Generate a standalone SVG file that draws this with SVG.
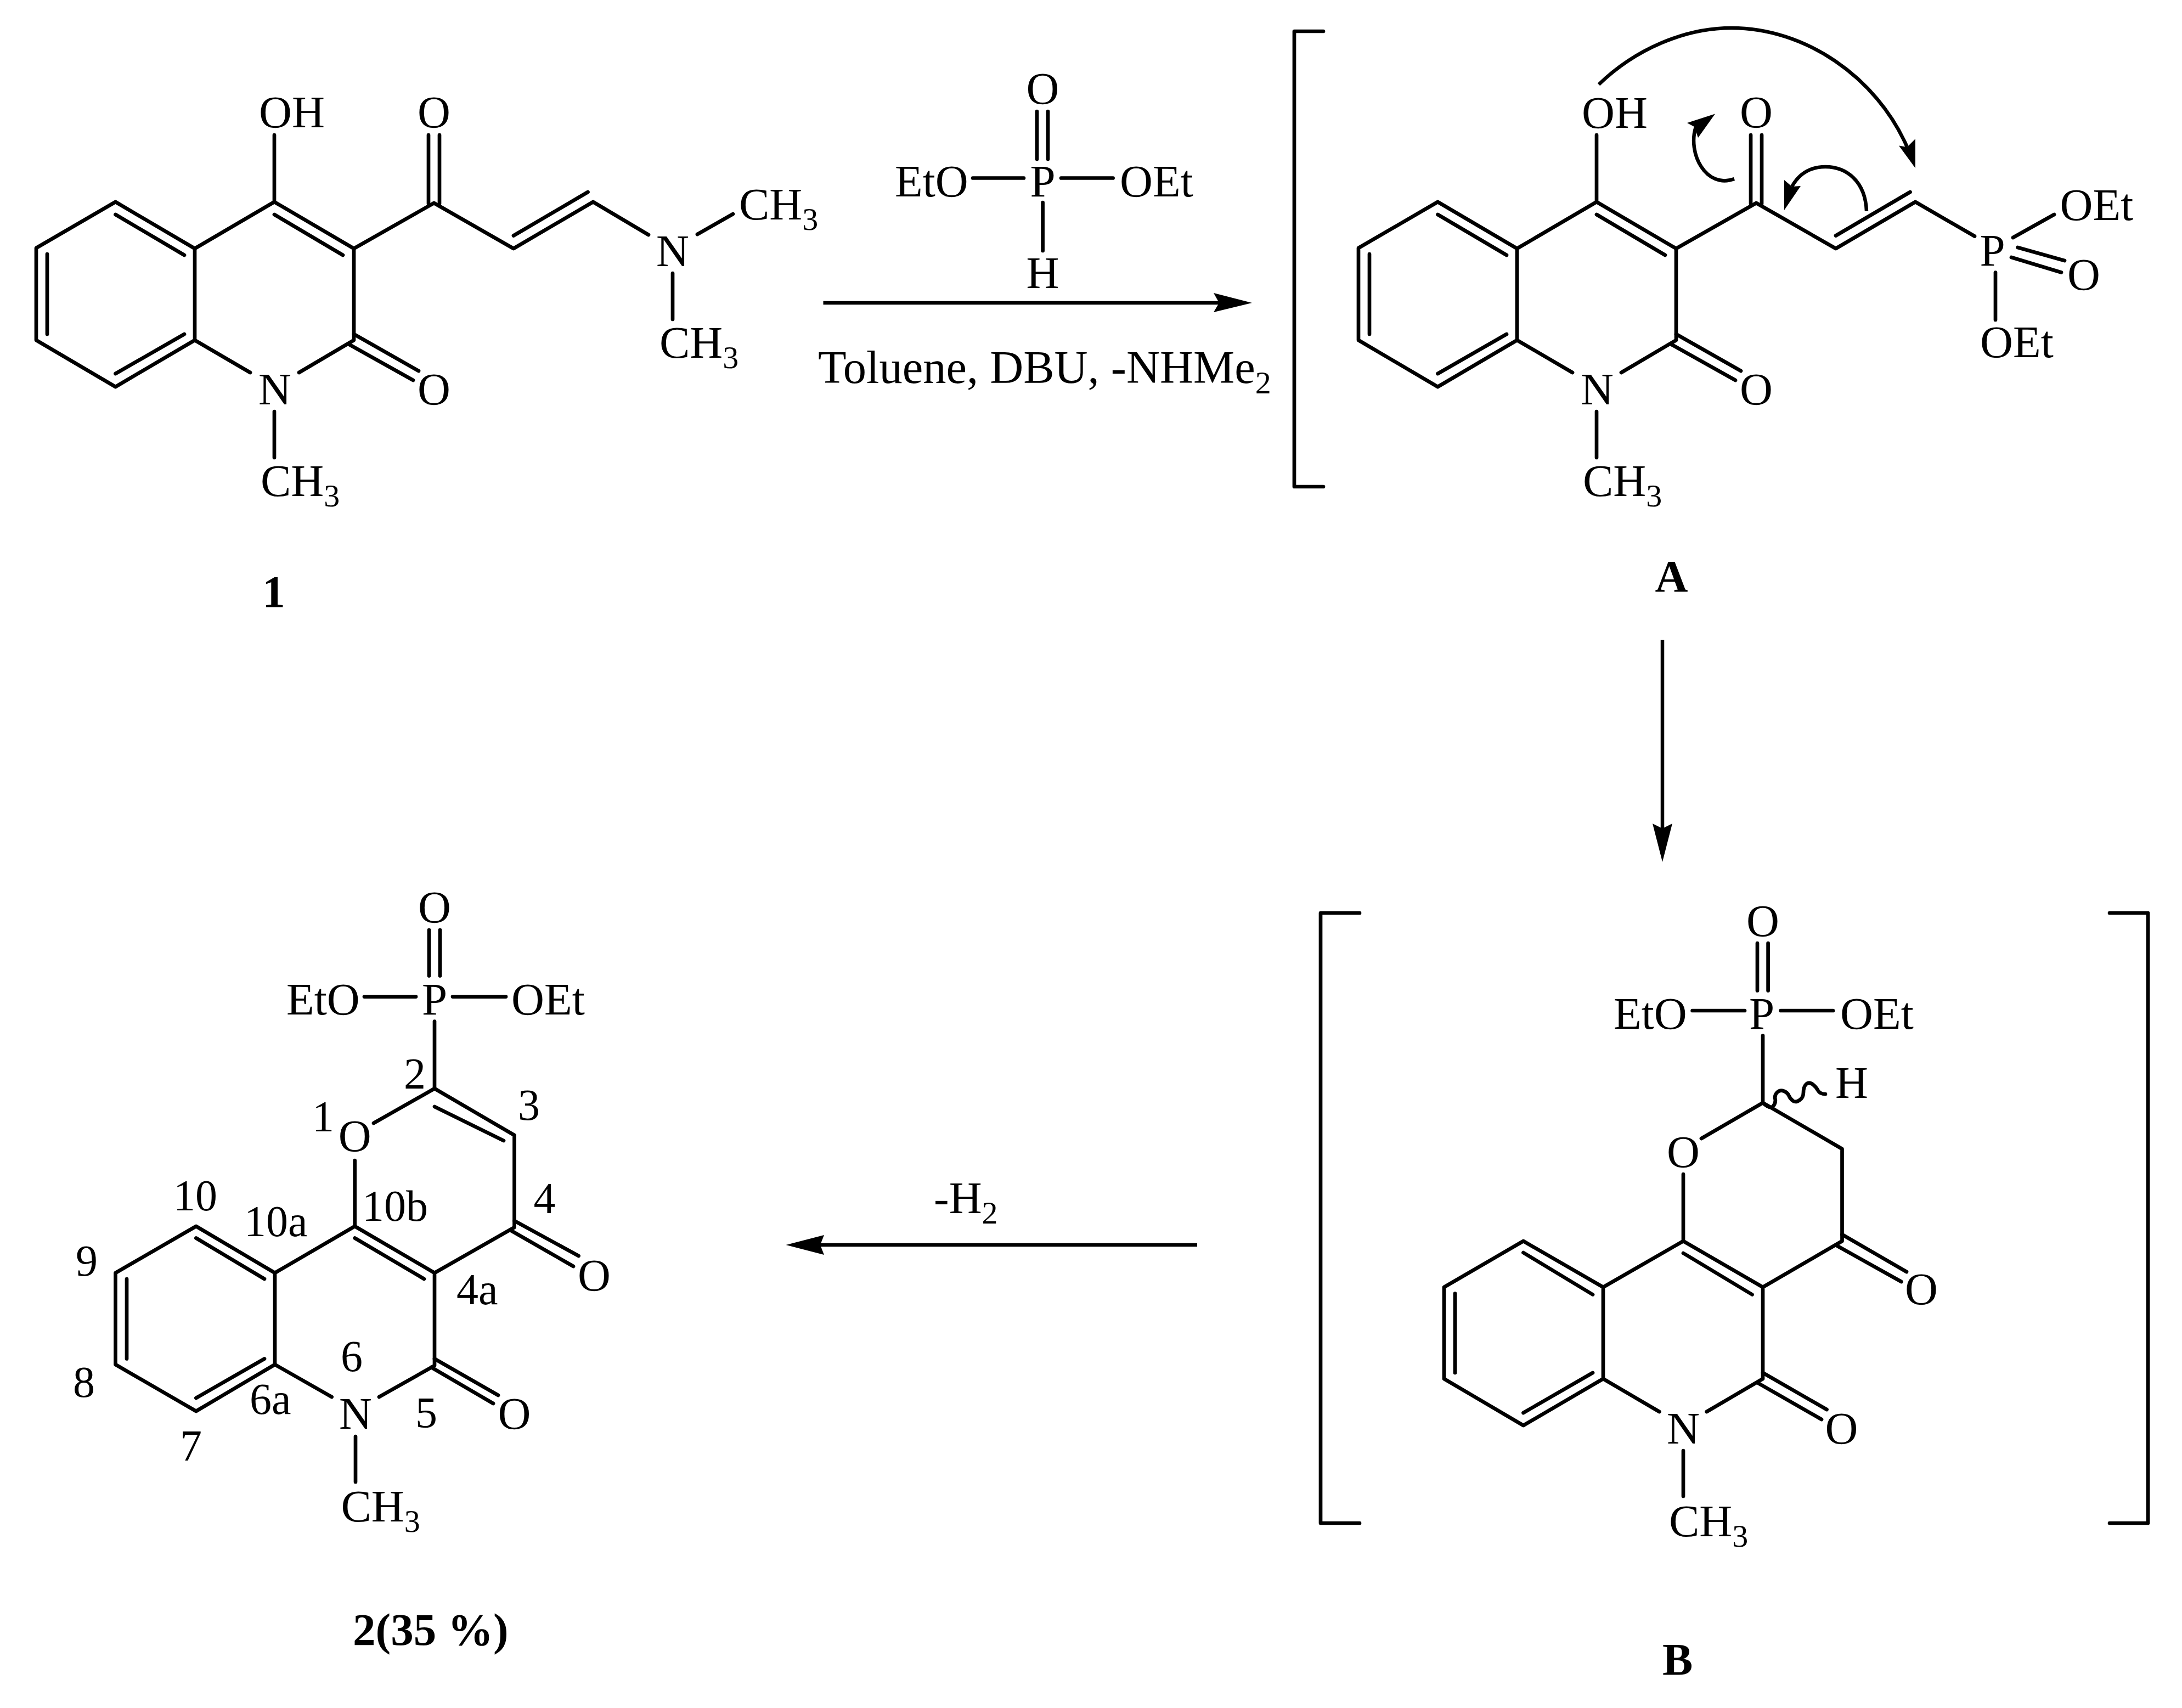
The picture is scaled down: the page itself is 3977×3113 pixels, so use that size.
<svg xmlns="http://www.w3.org/2000/svg" width="3977" height="3113" viewBox="0 0 3977 3113">
<style>
text{font-family:"Liberation Serif","Times New Roman",serif;font-size:83px;fill:#000}
text.n{font-size:80px}
text.t{font-size:84.500px}
text.b{font-weight:bold}
text.m{text-anchor:middle}
tspan.s{font-size:58px}
line,path.l{stroke:#000;stroke-width:6.700;stroke-linecap:round;stroke-linejoin:round;fill:none}
path.c{stroke:#000;stroke-width:6.500;stroke-linecap:butt;fill:none}
path.h{fill:#000;stroke:none}
</style>
<rect width="3977" height="3113" fill="#fff"/>
<g id="compound-1">
<path class="l" d="M500,368L355,453L210.500,368L66,452V620L210.500,705L355,620V453M355,620L456,679M500,368L645,453V620L545,679M645,453L791,370L936,453L1081,368L1182,428"/>
<line x1="210.500" y1="391" x2="336" y2="465"/><line x1="86" y1="463" x2="86" y2="609"/><line x1="210.500" y1="681" x2="336" y2="609"/><line x1="500" y1="391" x2="625" y2="465"/>
<line x1="500" y1="246" x2="500" y2="368"/><line x1="781" y1="246" x2="781" y2="371"/><line x1="801" y1="246" x2="801" y2="371"/>
<line x1="936" y1="429.500" x2="1071.500" y2="350"/><line x1="645" y1="609" x2="763" y2="676"/><line x1="635" y1="627" x2="753" y2="693"/>
<line x1="500" y1="750" x2="500" y2="834"/><line x1="1271" y1="427" x2="1336" y2="390"/><line x1="1226" y1="498" x2="1226" y2="582"/>
<text x="472" y="232">OH</text><text class="m" x="791" y="232">O</text><text class="m" x="501" y="737">N</text><text class="m" x="791" y="737">O</text>
<text x="475" y="904">CH<tspan class="s" dy="19">3</tspan></text><text class="m" x="1226" y="485">N</text>
<text x="1347" y="400">CH<tspan class="s" dy="19">3</tspan></text><text x="1202" y="652">CH<tspan class="s" dy="19">3</tspan></text>
<text class="b m" x="499" y="1106">1</text>
</g>
<g id="reagent">
<line x1="1890" y1="203" x2="1890" y2="290"/><line x1="1910" y1="203" x2="1910" y2="290"/><line x1="1773" y1="324.500" x2="1866" y2="324.500"/><line x1="1934" y1="324.500" x2="2028.600" y2="324.500"/><line x1="1900.600" y1="369" x2="1900.600" y2="457"/>
<text class="m" x="1900.600" y="189">O</text><text class="m" x="1900.600" y="357.600">P</text><text x="1631" y="357.600">EtO</text><text x="2041" y="357.600">OEt</text><text class="m" x="1900.600" y="525">H</text>
<text class="t" x="1491" y="698">Toluene, DBU, -NHMe<tspan class="s" dy="19">2</tspan></text>
</g>
<g id="intermediate-A">
<path class="l" d="M2412,57H2359V887H2412"/>
<path class="l" d="M2910,368L2765,453L2620.500,368L2476,452V620L2620.500,705L2765,620V453M2765,620L2866,679M2910,368L3055,453V620L2955,679M3055,453L3201,370L3346,453L3491,368L3599,430.500"/>
<line x1="2620.500" y1="391" x2="2746" y2="465"/><line x1="2496" y1="463" x2="2496" y2="609"/><line x1="2620.500" y1="681" x2="2746" y2="609"/><line x1="2910" y1="391" x2="3035" y2="465"/>
<line x1="2910" y1="246" x2="2910" y2="368"/><line x1="3191" y1="246" x2="3191" y2="371"/><line x1="3211" y1="246" x2="3211" y2="371"/>
<line x1="3346" y1="429.500" x2="3481.500" y2="350"/><line x1="3055" y1="609" x2="3173" y2="676"/><line x1="3045" y1="627" x2="3163" y2="693"/>
<line x1="2910" y1="750" x2="2910" y2="834"/>
<line x1="3669" y1="433" x2="3744" y2="391"/><line x1="3677.500" y1="451" x2="3763" y2="475"/><line x1="3666" y1="469" x2="3757" y2="496.500"/><line x1="3637" y1="496.500" x2="3637" y2="583"/>
<text x="2883" y="233">OH</text><text class="m" x="3201" y="232">O</text><text class="m" x="2911" y="737">N</text><text class="m" x="3201" y="737">O</text>
<text x="2885" y="904">CH<tspan class="s" dy="19">3</tspan></text><text class="m" x="3631.500" y="484">P</text><text x="3754.500" y="401">OEt</text><text class="m" x="3798" y="528">O</text><text x="3609" y="651">OEt</text>
<text class="b m" x="3046.500" y="1078">A</text>
</g>
<g id="intermediate-B">
<path class="l" d="M2478,1664H2407V2776H2478M3845,1664H3915V2776H3845"/>
<path class="l" d="M3068,2262L2922,2346L2776.500,2262L2632,2346V2513L2776.500,2598L2922,2513V2346M2922,2513L3024.400,2573M3068,2262L3213,2346V2513L3110.600,2573M3213,2346L3357.500,2262V2094L3213,2010L3101,2075"/>
<line x1="2776.500" y1="2283" x2="2903" y2="2359.500"/><line x1="2652" y1="2357.500" x2="2652" y2="2502"/><line x1="2776.500" y1="2575" x2="2903" y2="2502"/><line x1="3068" y1="2284" x2="3193.600" y2="2359.500"/>
<line x1="3068" y1="2140" x2="3068" y2="2262"/><line x1="3213" y1="1887.600" x2="3213" y2="2010"/><line x1="3203" y1="1719" x2="3203" y2="1805.500"/><line x1="3222.600" y1="1719" x2="3222.600" y2="1805.500"/>
<line x1="3084.600" y1="1842" x2="3180" y2="1842"/><line x1="3245.500" y1="1842" x2="3341" y2="1842"/>
<line x1="3357.500" y1="2250" x2="3475" y2="2318"/><line x1="3349" y1="2271" x2="3465.400" y2="2336"/><line x1="3213" y1="2502" x2="3329.500" y2="2569"/><line x1="3204" y1="2520.600" x2="3320" y2="2587"/><line x1="3068" y1="2644" x2="3068" y2="2727"/>
<path class="l" d="M3213,2010Q3226,2022 3232,2016Q3237,2010 3235.500,2003Q3234,1996 3239,1991Q3244.500,1986 3251,1988.500Q3258,1991 3260.500,1997Q3263,2003 3268,2006.500Q3273.500,2010 3280,2005Q3287,2000.500 3287,1991Q3287,1981 3292,1976Q3297,1971.500 3303.500,1976Q3310,1981 3313.500,1987.500Q3317,1994 3327,1994"/>
<text class="m" x="3213" y="1706">O</text><text class="m" x="3211" y="1875">P</text><text x="2941" y="1875">EtO</text><text x="3354" y="1875">OEt</text><text class="m" x="3375" y="2000.500">H</text><text class="m" x="3068" y="2127">O</text><text class="m" x="3502" y="2377">O</text><text class="m" x="3356.500" y="2631">O</text><text class="m" x="3068" y="2631">N</text>
<text x="3042" y="2800">CH<tspan class="s" dy="19">3</tspan></text>
<text class="b m" x="3057.600" y="3052">B</text>
</g>
<g id="product-2">
<path class="l" d="M646.700,2235L501,2320L357.400,2235L210.500,2320V2487L357.400,2572L501,2487V2320M501,2487L604.600,2546M646.700,2235L792,2320V2489L691,2546M792,2320L937.500,2237V2069L792,1984L681,2047"/>
<line x1="357.400" y1="2256.500" x2="482" y2="2331"/><line x1="231" y1="2331" x2="231" y2="2476.500"/><line x1="357.400" y1="2548" x2="482" y2="2476.500"/><line x1="646.700" y1="2256.500" x2="773" y2="2331"/><line x1="792" y1="2017" x2="918" y2="2079"/>
<line x1="646.700" y1="2115" x2="646.700" y2="2235"/><line x1="792" y1="1861.600" x2="792" y2="1984"/><line x1="782" y1="1695" x2="782" y2="1778.500"/><line x1="802" y1="1695" x2="802" y2="1778.500"/><line x1="664" y1="1816.600" x2="758" y2="1816.600"/><line x1="825" y1="1816.600" x2="922" y2="1816.600"/>
<line x1="937.500" y1="2225" x2="1054.600" y2="2289"/><line x1="930" y1="2242" x2="1045" y2="2308"/><line x1="792" y1="2476.500" x2="908" y2="2543"/><line x1="786" y1="2492" x2="899" y2="2558"/><line x1="648" y1="2618" x2="648" y2="2701"/>
<text class="m" x="792" y="1681">O</text><text class="m" x="792" y="1849">P</text><text x="522" y="1849">EtO</text><text x="932" y="1849">OEt</text><text class="m" x="646.700" y="2098">O</text><text class="m" x="1083" y="2352">O</text><text class="m" x="937.500" y="2604">O</text><text class="m" x="648" y="2604">N</text>
<text x="621.400" y="2773">CH<tspan class="s" dy="19">3</tspan></text>
<text class="n m" x="756" y="1984">2</text><text class="n m" x="964" y="2041">3</text><text class="n m" x="589" y="2062">1</text><text class="n m" x="992.600" y="2210.600">4</text><text class="n m" x="356" y="2206">10</text><text class="n" x="445" y="2252.600">10a</text><text class="n" x="660" y="2225">10b</text><text class="n m" x="158" y="2325">9</text><text class="n m" x="153" y="2546">8</text><text class="n m" x="348" y="2662">7</text><text class="n" x="455" y="2577">6a</text><text class="n m" x="641" y="2499">6</text><text class="n m" x="777" y="2602">5</text><text class="n" x="832" y="2377">4a</text>
<text class="b" x="643" y="2998">2(35 %)</text>
</g>
<g id="connectors">
<path class="c" d="M1500.500,552H2225"/><path class="h" d="M2282,552L2212,534L2222,552L2212,569Z"/>
<path class="c" d="M3030,1166V1520"/><path class="h" d="M3030,1571L3012,1501L3030,1510L3048,1501Z"/>
<path class="c" d="M2182,2269H1490"/><path class="h" d="M1432.500,2269L1502,2251L1495,2269L1502,2287Z"/>
<path class="c" d="M2914,154C2980,90 3070,51 3156,51C3290,51 3420,140 3476,268"/><path class="h" d="M3491,306.500L3491,253L3476,268L3461,265.500Z"/>
<path class="c" d="M3161,326C3110,345 3075,280 3091,231"/><path class="h" d="M3126,207.500L3075,224L3088,231L3095,251Z"/>
<path class="c" d="M3402,385C3400,330 3365,304 3327,304C3300,304 3280,315 3266,340"/><path class="h" d="M3252,383L3252,328L3266,340L3282,339Z"/>
</g>
<g id="minus-h2"><text x="1702" y="2210.500">-H<tspan class="s" dy="19">2</tspan></text></g>
</svg>
